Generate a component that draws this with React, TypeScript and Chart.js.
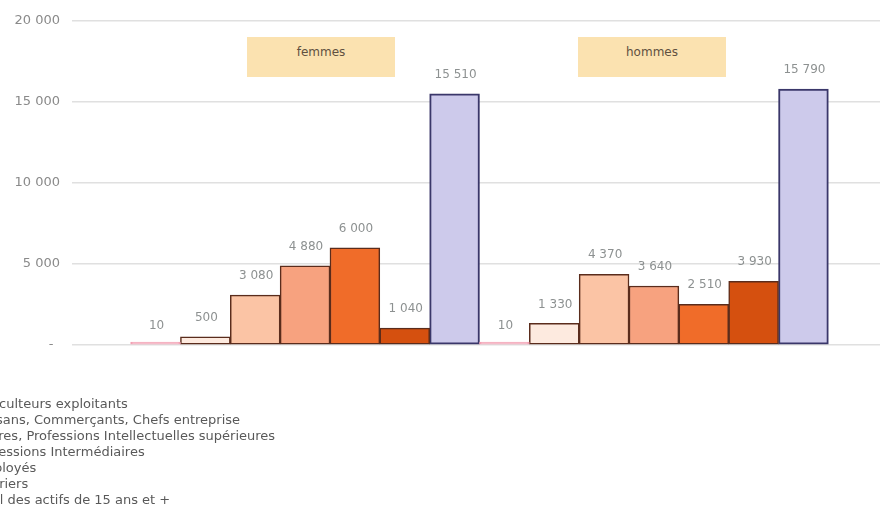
import React, { useEffect, useRef } from 'react';
import { Chart, registerables } from 'chart.js';

Chart.register(...registerables);

// ---- data ----
const categories = ['femmes', 'hommes'];
const categoryPositions = [0, 1];
const seriesLabels = [
  'Agriculteurs exploitants',
  'Artisans, Commerçants, Chefs entreprise',
  'Cadres, Professions Intellectuelles supérieures',
  'Professions Intermédiaires',
  'Employés',
  'Ouvriers',
  'Total des actifs de 15 ans et +',
];
const agriculteurs = [10, 10];
const artisans = [500, 1330];
const cadres = [3080, 4370];
const profIntermediaires = [4880, 3640];
const employes = [6000, 2510];
const ouvriers = [1040, 3930];
const totalActifs = [15510, 15790];
const yTickValues = [0, 5000, 10000, 15000, 20000];

const seriesValues = [agriculteurs, artisans, cadres, profIntermediaires, employes, ouvriers, totalActifs];

// ---- styles ----
const fillColors = ['#f6a9bb', '#fdeadf', '#fbc4a5', '#f7a27f', '#f06c29', '#d5500f', '#cdcaeb'];
const borderColors = ['#f2a0b3', '#5a2c1c', '#5a2c1c', '#5a2c1c', '#5a2c1c', '#5a2c1c', '#3a376a'];
const FONT = "'DejaVu Sans', sans-serif";

function fmt(v: number): string {
  return String(v).replace(/\B(?=(\d{3})+(?!\d))/g, ' ');
}

const valueLabelPlugin = {
  id: 'valueLabels',
  afterDatasetsDraw(chart: any) {
    const ctx = chart.ctx;
    ctx.save();
    ctx.font = `12px ${FONT}`;
    ctx.fillStyle = '#8d9191';
    ctx.textAlign = 'center';
    ctx.textBaseline = 'middle';
    chart.data.datasets.forEach((ds: any, di: number) => {
      const meta = chart.getDatasetMeta(di);
      meta.data.forEach((bar: any, i: number) => {
        const v = ds.data[i].y;
        const y = chart.scales.y.getPixelForValue(v);
        ctx.fillText(fmt(v), bar.x + 1, y - 19);
      });
    });
    ctx.restore();
  },
};

const textLegendPlugin = {
  id: 'textLegend',
  afterDraw(chart: any) {
    const ctx = chart.ctx;
    ctx.save();
    ctx.font = `13px ${FONT}`;
    ctx.fillStyle = '#595959';
    ctx.textAlign = 'left';
    ctx.textBaseline = 'middle';
    chart.data.datasets.forEach((ds: any, di: number) => {
      ctx.fillText(ds.label, -27, 405 + di * 16);
    });
    ctx.restore();
  },
};

export default function App() {
  const canvasRef = useRef<HTMLCanvasElement | null>(null);

  useEffect(() => {
    if (!canvasRef.current) return;
    const datasets = seriesValues.map((vals, si) => ({
      label: seriesLabels[si],
      data: vals.map((v, ci) => ({ x: categoryPositions[ci], y: v })),
      backgroundColor: fillColors[si],
      borderColor: borderColors[si],
      borderWidth: si === 6 ? 2 : 1.5,
      borderSkipped: false as const,
      minBarLength: si === 0 ? 3 : 0,
      barPercentage: 1,
      categoryPercentage: 1,
    }));

    const chart = new Chart(canvasRef.current, {
      type: 'bar',
      data: { datasets },
      options: {
        animation: false,
        responsive: true,
        maintainAspectRatio: false,
        layout: { padding: { top: 21, bottom: 165, left: 0, right: 7 } },
        plugins: {
          legend: { display: false },
          tooltip: { enabled: false },
        },
        scales: {
          x: {
            type: 'linear',
            display: false,
            offset: false,
            min: -0.668,
            max: 1.648,
            grid: { display: false },
            ticks: { stepSize: 1, includeBounds: false },
          },
          y: {
            min: 0,
            max: 20000,
            afterFit(scale: any) {
              scale.width = 72;
            },
            afterBuildTicks(scale: any) {
              scale.ticks = yTickValues.map((v) => ({ value: v }));
            },
            border: { display: false },
            grid: { color: '#e0e0e0', lineWidth: 1.5, drawTicks: false },
            ticks: {
              padding: 12,
              color: '#8a8a8a',
              font: { family: FONT, size: 13 },
              callback: (v: any) => (Number(v) === 0 ? '-\u2002' : fmt(Number(v))),
            },
          },
        },
      },
      plugins: [valueLabelPlugin, textLegendPlugin],
    });
    return () => chart.destroy();
  }, []);

  const boxStyle: React.CSSProperties = {
    position: 'absolute',
    top: 37,
    width: 148,
    height: 40,
    background: '#fbe2b0',
    color: '#5f5040',
    fontFamily: FONT,
    fontSize: 12,
    textAlign: 'center',
    lineHeight: '14px',
    paddingTop: 8,
    boxSizing: 'border-box',
  };

  return (
    <div style={{ position: 'fixed', left: 0, top: 0, width: 887, height: 510, background: '#fff' }}>
      <canvas ref={canvasRef} />
      <div style={{ ...boxStyle, left: 247 }}>{categories[0]}</div>
      <div style={{ ...boxStyle, left: 578 }}>{categories[1]}</div>
    </div>
  );
}
